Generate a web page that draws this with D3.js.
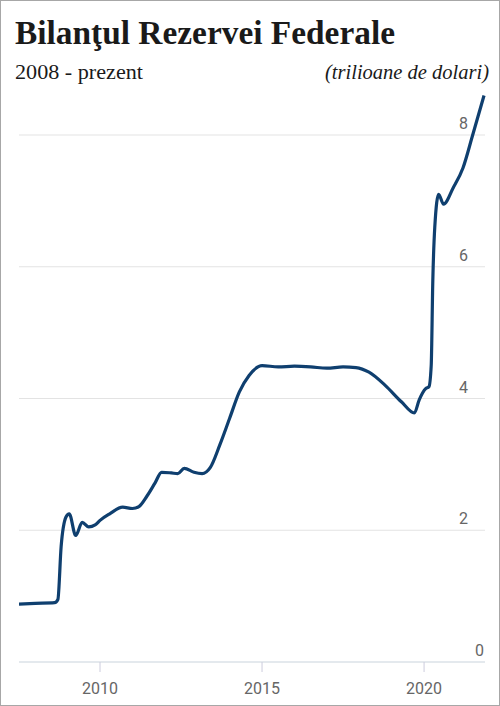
<!DOCTYPE html>
<html><head><meta charset="utf-8">
<script src="https://cdn.jsdelivr.net/npm/d3@7"></script>
<style>body{margin:0;background:#fff}</style>
</head><body>
<svg id="chart" width="500" height="706"></svg>
<script>
// Fed balance sheet, trillions of dollars
const years = [2007.5,2008.0,2008.6,2008.7,2008.8,2008.95,2009.05,2009.25,2009.45,2009.65,2009.85,2010.0,2010.3,2010.7,2011.0,2011.2,2011.45,2011.7,2011.9,2012.2,2012.4,2012.6,2012.9,2013.15,2013.4,2013.7,2014.0,2014.3,2014.6,2015.0,2015.5,2016.0,2016.5,2017.0,2017.5,2017.9,2018.3,2018.8,2019.3,2019.7,2019.85,2020.05,2020.15,2020.22,2020.27,2020.33,2020.45,2020.6,2020.9,2021.2,2021.5,2021.85];
const values = [0.88,0.89,0.90,0.95,1.75,2.2,2.25,1.92,2.12,2.05,2.08,2.15,2.25,2.35,2.33,2.36,2.52,2.72,2.88,2.87,2.86,2.94,2.88,2.86,2.95,3.3,3.7,4.1,4.35,4.5,4.48,4.49,4.48,4.46,4.48,4.47,4.4,4.2,3.95,3.78,3.98,4.15,4.18,4.5,5.8,6.6,7.1,6.95,7.2,7.5,8.0,8.6];
const yTicks = [0,2,4,6,8];
const xTicks = [2010,2015,2020];

window.addEventListener('load', () => {
    let svg = d3.select("svg#chart")
    svg.append("rect").attr('x', 0.5).attr('y', 0.5).attr('width', 499).attr('height', 705)
        .attr('fill', 'none').attr('stroke', '#a7a7a7')

    let x = d3.scaleLinear().domain([2007.5, 2021.88]).range([19, 485])
    let y = d3.scaleLinear().domain([0, 8]).range([662, 135])

    // grid lines + y labels
    yTicks.forEach(t => {
        svg.append("line").attr('x1', 19).attr('x2', 485).attr('y1', y(t)).attr('y2', y(t))
            .attr('stroke', t == 0 ? '#c9d3dc' : '#e3e3e3').attr('stroke-width', 1)
        svg.append("text").attr('x', t == 0 ? 484 : 468).attr('y', y(t) - 6).attr('text-anchor', 'end')
            .attr('font-family', 'Roboto').attr('font-size', 16).attr('fill', '#666').text(t)
    })

    // x ticks
    xTicks.forEach(t => {
        svg.append("line").attr('x1', x(t)).attr('x2', x(t)).attr('y1', 662).attr('y2', 672)
            .attr('stroke', '#ccd').attr('stroke-width', 1)
        svg.append("text").attr('x', x(t)).attr('y', 694).attr('text-anchor', 'middle')
            .attr('font-family', 'Roboto').attr('font-size', 16).attr('fill', '#666').text(t)
    })

    let line = d3.line().x((d, i) => x(years[i])).y(d => y(d)).curve(d3.curveMonotoneX)
    svg.append("path").attr('d', line(values)).attr('fill', 'none')
        .attr('stroke', '#0f3f6f').attr('stroke-width', 3.2).attr('stroke-linejoin', 'round')

    // titles
    svg.append("text").attr('x', 15).attr('y', 44).attr('font-family', '"Liberation Sans Narrow"')
        .attr('font-weight', 'bold').attr('font-size', 34).attr('fill', '#1a1a1a')
        .attr('textLength', 380).attr('lengthAdjust', 'spacingAndGlyphs').text('Bilanţul Rezervei Federale')
    svg.append("text").attr('x', 15).attr('y', 79).attr('font-family', '"Liberation Sans Narrow"')
        .attr('font-size', 22).attr('fill', '#1a1a1a')
        .attr('textLength', 128).attr('lengthAdjust', 'spacingAndGlyphs').text('2008 - prezent')
    svg.append("text").attr('x', 489).attr('y', 79).attr('text-anchor', 'end').attr('font-family', '"Liberation Sans Narrow"')
        .attr('font-size', 22).attr('font-style', 'italic').attr('fill', '#1a1a1a')
        .attr('textLength', 164).attr('lengthAdjust', 'spacingAndGlyphs').text('(trilioane de dolari)')
})
</script>
</body></html>
